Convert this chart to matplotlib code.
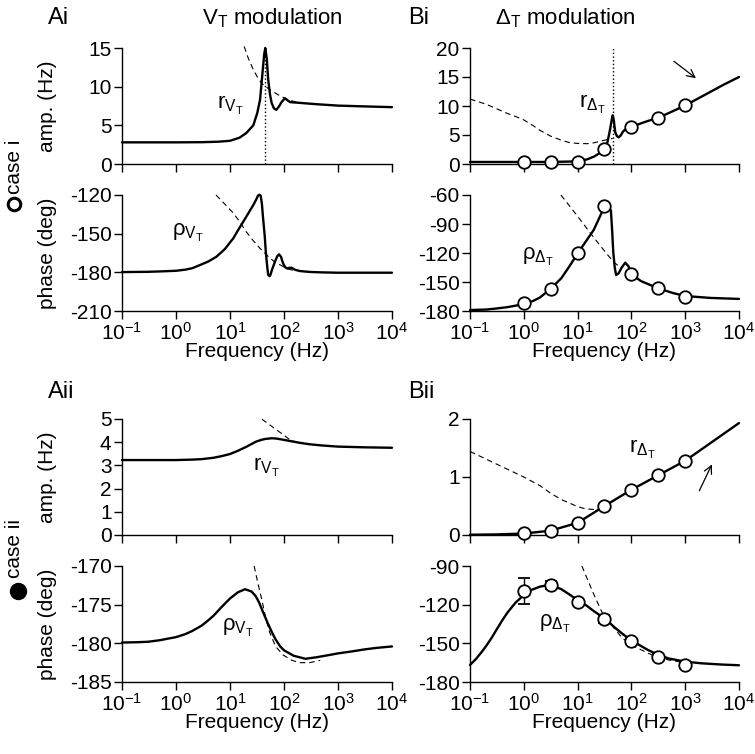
import numpy as np
import matplotlib
matplotlib.use("Agg")
from matplotlib import pyplot as plt
from matplotlib.lines import Line2D
from matplotlib.ticker import NullLocator, FixedLocator

plt.rcParams['font.family'] = ['Liberation Sans', 'DejaVu Sans']
plt.rcParams['mathtext.fontset'] = 'custom'
plt.rcParams['mathtext.rm'] = 'Liberation Sans'
plt.rcParams['mathtext.it'] = 'Liberation Sans'
plt.rcParams['mathtext.bf'] = 'Liberation Sans:bold'
plt.rcParams['axes.unicode_minus'] = False

# ---- data ----
# case i, V_T modulation
f_ai_amp = [0.1, 0.5, 1, 3, 6, 10, 15, 20, 27, 32, 36, 40, 43, 45, 48, 51, 55, 59, 65, 72, 80,
            90, 104, 118, 130, 160, 200, 300, 470, 1000, 3000, 10000]
ai_amp = [2.8, 2.8, 2.8, 2.82, 2.88, 3.0, 3.4, 4.0, 5.0, 6.6, 8.3, 11.8, 14.2, 15.0, 13.6, 10.9,
          9.0, 7.9, 7.2, 7.0, 7.4, 8.0, 8.5, 8.2, 8.0, 7.95, 7.9, 7.8, 7.7, 7.55, 7.45, 7.35]
f_ai_amp_hf = [18.3, 22, 27, 33, 39, 46, 55, 68, 85, 112, 150, 200]
ai_amp_hf = [15.2, 13.6, 12.2, 11.1, 10.4, 10.0, 9.6, 9.2, 8.8, 8.4, 8.1, 7.95]

f_ai_ph = [0.1, 0.3, 0.5, 1, 1.5, 2, 2.8, 4, 5.6, 8, 11.5, 14, 17.6, 22, 27, 31, 33, 35, 37,
           39, 41, 44, 46, 49, 51, 54, 56, 60, 68, 75, 81, 88, 96, 105, 114, 125, 137, 160, 197,
           300, 465, 1000, 10000]
ai_ph = [-179.8, -179.6, -179.3, -178.8, -177.9, -176.8, -174.3, -171.5, -167.9, -162, -153.6,
         -147.5, -140.7, -134, -127.8, -123, -120.5, -119.8, -120.5, -127, -138, -152, -164,
         -176, -182, -183, -182, -178, -171.7, -167.5, -166, -168, -173, -176, -177, -176.5,
         -176.4, -178, -179, -179.7, -180, -180.3, -180.3]
f_ai_ph_hf = [5.5, 8, 11.5, 15, 20, 27, 36, 45, 55, 68, 85, 118, 150]
ai_ph_hf = [-120, -127, -134, -140.5, -148.5, -155.5, -161.4, -165.5, -169, -172, -174.3,
            -177.4, -178.5]

# case i, Delta_T modulation
f_bi_amp = [0.1, 1, 3, 10, 15, 20, 25, 31.6, 36, 40, 43, 45, 47, 50, 54, 58, 63, 70, 80, 89,
            100, 150, 200, 316, 500, 1000, 2000, 5000, 10000]
bi_amp = [0.35, 0.35, 0.35, 0.45, 0.8, 1.26, 1.8, 2.6, 3.8, 5.9, 7.6, 8.4, 7.6, 5.5, 4.8, 4.6,
          4.9, 5.6, 6.1, 6.2, 6.4, 7.0, 7.4, 8.0, 8.8, 10.1, 11.6, 13.6, 15.0]
f_bi_amp_lf = [0.1, 0.2, 0.3, 0.5, 0.7, 1, 1.5, 2, 3.16, 5, 7, 10, 15, 20, 31.6, 45]
bi_amp_lf = [11.2, 10.3, 9.6, 8.7, 8.2, 7.6, 6.6, 5.8, 4.8, 4.1, 3.7, 3.55, 3.5, 3.65, 4.1, 4.4]

f_bi_ph = [0.1, 0.2, 0.3, 0.5, 0.7, 1, 1.5, 2, 3.16, 5, 7, 10, 20, 31.6, 37, 41.6, 44, 46, 49,
           52, 58, 66, 77, 89, 100, 150, 316, 600, 1000, 3000, 10000]
bi_ph = [-179, -178.5, -177.5, -176, -174.5, -173, -169.5, -166, -157, -146, -134, -120.5, -96,
         -72, -72, -76, -98, -119, -135, -142.8, -141, -135, -130, -134, -141.7, -149, -156.6,
         -161.5, -164.5, -166.5, -167.5]
f_bi_ph_hf = [4.9, 10, 20, 35, 48, 60]
bi_ph_hf = [-60, -82, -104, -121, -130, -134]

f_sim = [1, 3.16, 10, 31.6, 100, 316, 1000]
bi_amp_sim = [0.3, 0.3, 0.4, 2.6, 6.4, 8.0, 10.1]
bi_amp_err = [0.2, 0.2, 0.2, 0.3, 0.3, 0.3, 0.3]
bi_ph_sim = [-172, -157, -120.4, -71.8, -141.7, -156.6, -165]
bi_ph_err = [2, 2, 2, 2, 2, 2, 2]

# case ii, V_T modulation
f_aii_amp = [0.1, 1, 2, 3, 5, 7, 10, 14, 20, 25, 30, 38, 45, 59, 70, 80, 100, 130, 200, 300,
             500, 1000, 3000, 10000]
aii_amp = [3.23, 3.23, 3.25, 3.27, 3.33, 3.4, 3.49, 3.63, 3.8, 3.92, 4.02, 4.1, 4.14, 4.17,
           4.16, 4.14, 4.1, 4.05, 3.97, 3.91, 3.86, 3.81, 3.78, 3.76]
f_aii_amp_hf = [39, 55, 74, 100, 129, 160]
aii_amp_hf = [4.99, 4.74, 4.52, 4.3, 4.1, 4.02]

f_aii_ph = [0.1, 0.2, 0.3, 0.5, 0.7, 1, 1.5, 2, 3, 4, 5, 7, 10, 14, 19, 25, 30, 35, 40, 50,
            60, 70, 85, 100, 150, 250, 400, 700, 1000, 2000, 3000, 5000, 10000]
aii_ph = [-179.9, -179.85, -179.8, -179.6, -179.4, -179.2, -178.8, -178.4, -177.7, -177.0,
          -176.4, -175.3, -174.2, -173.4, -173.0, -173.3, -173.9, -174.8, -175.8, -177.4,
          -178.6, -179.5, -180.4, -180.9, -181.6, -182.0, -181.8, -181.5, -181.3, -181.0,
          -180.8, -180.6, -180.4]
f_aii_ph_hf = [28, 33, 39, 46, 55, 70, 96, 140, 197, 300, 468]
aii_ph_hf = [-170, -172.3, -174.4, -176.8, -178.7, -180.4, -181.5, -182.2, -182.5, -182.5,
             -182.2]

# case ii, Delta_T modulation
f_bii_amp = [0.1, 0.3, 1, 3.16, 10, 31.6, 100, 316, 1000, 10000]
bii_amp = [0.005, 0.01, 0.025, 0.075, 0.21, 0.5, 0.78, 1.03, 1.28, 1.93]
f_bii_amp_lf = [0.1, 0.3, 1, 2, 3.16, 5, 10, 14, 20, 31.6, 40]
bii_amp_lf = [1.44, 1.23, 1.0, 0.85, 0.72, 0.61, 0.49, 0.45, 0.44, 0.48, 0.5]

f_bii_ph = [0.1, 0.13, 0.17, 0.2, 0.25, 0.3, 0.4, 0.5, 0.7, 1, 1.4, 2, 2.5, 3.16, 4, 5, 7, 10,
            15, 20, 31.6, 50, 70, 100, 150, 200, 316, 500, 1000, 2000, 5000, 10000]
bii_ph = [-166.8, -162, -156, -152, -146, -140.5, -132, -126, -118.5, -112.5, -108.5, -106,
          -105.3, -105.4, -106.5, -108, -112, -116.4, -121, -125, -130.6, -138, -143, -147.7,
          -152, -155, -159, -161.8, -164.2, -165.5, -166.5, -167]
f_bii_ph_hf = [12, 20, 29, 45, 68, 120, 240, 500, 1000]
bii_ph_hf = [-90, -112, -126.7, -137, -146, -153, -159, -163, -165]

bii_amp_sim = [0.03, 0.075, 0.21, 0.5, 0.78, 1.03, 1.28]
bii_amp_err = [0.03, 0.03, 0.03, 0.03, 0.03, 0.03, 0.03]
bii_ph_sim = [-109.4, -104.7, -118.2, -131.1, -148, -160.4, -166.8]
bii_ph_err = [10.3, 3, 2, 3, 2.5, 2, 2]

f_res = 45  # resonance, dotted line

# ---- layout ----
fig = plt.figure(figsize=(7.55, 7.54), dpi=100)
W, H = 755.0, 754.0


def make_ax(x0, x1, y_top, y_bot):
    return fig.add_axes([x0 / W, 1 - y_bot / H, (x1 - x0) / W, (y_bot - y_top) / H])


ax_ai_a = make_ax(122, 392, 48, 164)
ax_ai_p = make_ax(122, 392, 195, 311)
ax_bi_a = make_ax(470, 739, 48, 164)
ax_bi_p = make_ax(470, 739, 195, 311)
ax_aii_a = make_ax(122, 392, 419, 535)
ax_aii_p = make_ax(122, 392, 566, 682)
ax_bii_a = make_ax(470, 739, 419, 535)
ax_bii_p = make_ax(470, 739, 566, 682)

FS = 15
lw_main = 1.7
lw_dash = 0.8
dash = (0, (5, 3.5))


def style(ax, ylim, yticks, xlabels):
    ax.set_xscale('log')
    ax.set_xlim(0.1, 1e4)
    ax.set_ylim(*ylim)
    ax.xaxis.set_major_locator(FixedLocator([0.1, 1, 10, 100, 1000, 10000]))
    ax.xaxis.set_minor_locator(NullLocator())
    ax.set_yticks(yticks)
    ax.set_yticklabels([str(v) for v in yticks])
    for s in ['top', 'right']:
        ax.spines[s].set_visible(False)
    for s in ['left', 'bottom']:
        ax.spines[s].set_linewidth(1.0)
    ax.tick_params(direction='out', length=6, width=1.0, labelsize=FS, pad=1.5)
    ax.set_facecolor('none')
    if xlabels:
        ax.set_xticklabels(['$10^{-1}$', '$10^{0}$', '$10^{1}$', '$10^{2}$', '$10^{3}$', '$10^{4}$'])
        ax.set_xlabel('Frequency (Hz)', fontsize=FS, labelpad=-1)
    else:
        ax.set_xticklabels([])


def curve(ax, f, y):
    ax.plot(f, y, color='k', lw=lw_main, solid_capstyle='round', solid_joinstyle='round',
            clip_on=False, zorder=3)


def asym(ax, f, y):
    ax.plot(f, y, color='k', lw=lw_dash, ls=dash, clip_on=False, zorder=2)


def sims(ax, y, err):
    ax.errorbar(f_sim, y, yerr=err, fmt='o', ms=9, mfc='white', mec='k', mew=1.3,
                ecolor='k', elinewidth=1.0, capsize=4, capthick=1.0, clip_on=False, zorder=4)


# Ai
curve(ax_ai_a, f_ai_amp, ai_amp)
asym(ax_ai_a, f_ai_amp_hf, ai_amp_hf)
ax_ai_a.vlines(f_res, 0, 15, colors='k', linestyles=':', lw=1.0)
style(ax_ai_a, (0, 15), [0, 5, 10, 15], False)
curve(ax_ai_p, f_ai_ph, ai_ph)
asym(ax_ai_p, f_ai_ph_hf, ai_ph_hf)
style(ax_ai_p, (-210, -120), [-210, -180, -150, -120], True)

# Bi
curve(ax_bi_a, f_bi_amp, bi_amp)
asym(ax_bi_a, f_bi_amp_lf, bi_amp_lf)
sims(ax_bi_a, bi_amp_sim, bi_amp_err)
ax_bi_a.vlines(f_res, 0, 20, colors='k', linestyles=':', lw=1.0)
ax_bi_a.annotate('', xy=(1740, 14.5), xytext=(562, 18.0),
                 arrowprops=dict(arrowstyle='->', lw=0.9, color='k', mutation_scale=14))
style(ax_bi_a, (0, 20), [0, 5, 10, 15, 20], False)
curve(ax_bi_p, f_bi_ph, bi_ph)
asym(ax_bi_p, f_bi_ph_hf, bi_ph_hf)
sims(ax_bi_p, bi_ph_sim, bi_ph_err)
style(ax_bi_p, (-180, -60), [-180, -150, -120, -90, -60], True)

# Aii
curve(ax_aii_a, f_aii_amp, aii_amp)
asym(ax_aii_a, f_aii_amp_hf, aii_amp_hf)
style(ax_aii_a, (0, 5), [0, 1, 2, 3, 4, 5], False)
curve(ax_aii_p, f_aii_ph, aii_ph)
asym(ax_aii_p, f_aii_ph_hf, aii_ph_hf)
style(ax_aii_p, (-185, -170), [-185, -180, -175, -170], True)

# Bii
curve(ax_bii_a, f_bii_amp, bii_amp)
asym(ax_bii_a, f_bii_amp_lf, bii_amp_lf)
sims(ax_bii_a, bii_amp_sim, bii_amp_err)
ax_bii_a.annotate('', xy=(3300, 1.26), xytext=(1740, 0.72),
                  arrowprops=dict(arrowstyle='->', lw=0.9, color='k', mutation_scale=14))
style(ax_bii_a, (0, 2), [0, 1, 2], False)
curve(ax_bii_p, f_bii_ph, bii_ph)
asym(ax_bii_p, f_bii_ph_hf, bii_ph_hf)
sims(ax_bii_p, bii_ph_sim, bii_ph_err)
style(ax_bii_p, (-180, -90), [-180, -150, -120, -90], True)

# y labels
for ax, lab in [(ax_ai_a, 'amp. (Hz)'), (ax_ai_p, 'phase (deg)'),
                (ax_aii_a, 'amp. (Hz)'), (ax_aii_p, 'phase (deg)')]:
    ax.set_ylabel(lab, fontsize=FS)
    ax.yaxis.set_label_coords(-65 / 270.0, 0.5)

# curve labels
r_vt = r'$\mathrm{r}_{\mathrm{V}_{\mathrm{T}}}$'
r_dt = r'$\mathrm{r}_{\Delta_{\mathrm{T}}}$'
p_vt = r'$\rho_{\mathrm{V}_{\mathrm{T}}}$'
p_dt = r'$\rho_{\Delta_{\mathrm{T}}}$'
ax_ai_a.text(5.8, 7.6, r_vt, fontsize=FS + 1, va='center')
ax_ai_p.text(0.84, -149.5, p_vt, fontsize=FS + 1, va='center')
ax_bi_a.text(10.7, 10.2, r_dt, fontsize=FS + 1, va='center')
ax_bi_p.text(0.91, -124, p_dt, fontsize=FS + 1, va='center')
ax_aii_a.text(27, 2.93, r_vt, fontsize=FS + 1, va='center')
ax_aii_p.text(7, -178, p_vt, fontsize=FS + 1, va='center')
ax_bii_a.text(89, 1.48, r_dt, fontsize=FS + 1, va='center')
ax_bii_p.text(1.95, -135, p_dt, fontsize=FS + 1, va='center')

# panel labels and titles
fig.text(48 / W, 1 - 18 / H, 'Ai', fontsize=17, va='center')
fig.text(272 / W, 1 - 18 / H, r'V$_\mathrm{T}$ modulation', fontsize=16, va='center', ha='center')
fig.text(408 / W, 1 - 18 / H, 'Bi', fontsize=17, va='center')
fig.text(565 / W, 1 - 18 / H, r'$\Delta_\mathrm{T}$ modulation', fontsize=16, va='center', ha='center')
fig.text(48 / W, 1 - 392 / H, 'Aii', fontsize=17, va='center')
fig.text(408 / W, 1 - 392 / H, 'Bii', fontsize=17, va='center')

# case labels
fig.text(15 / W, 1 - 194 / H, 'case i', fontsize=FS, rotation=90, ha='center', va='bottom')
fig.add_artist(Line2D([14 / W], [1 - 204 / H], marker='o', ms=9, mfc='white', mec='k', mew=2.2,
                      transform=fig.transFigure))
fig.text(15 / W, 1 - 578 / H, 'case ii', fontsize=FS, rotation=90, ha='center', va='bottom')
fig.add_artist(Line2D([18 / W], [1 - 591 / H], marker='o', ms=11, mfc='k', mec='k', mew=1.5,
                      transform=fig.transFigure))

fig.savefig('out.png', dpi=100)
